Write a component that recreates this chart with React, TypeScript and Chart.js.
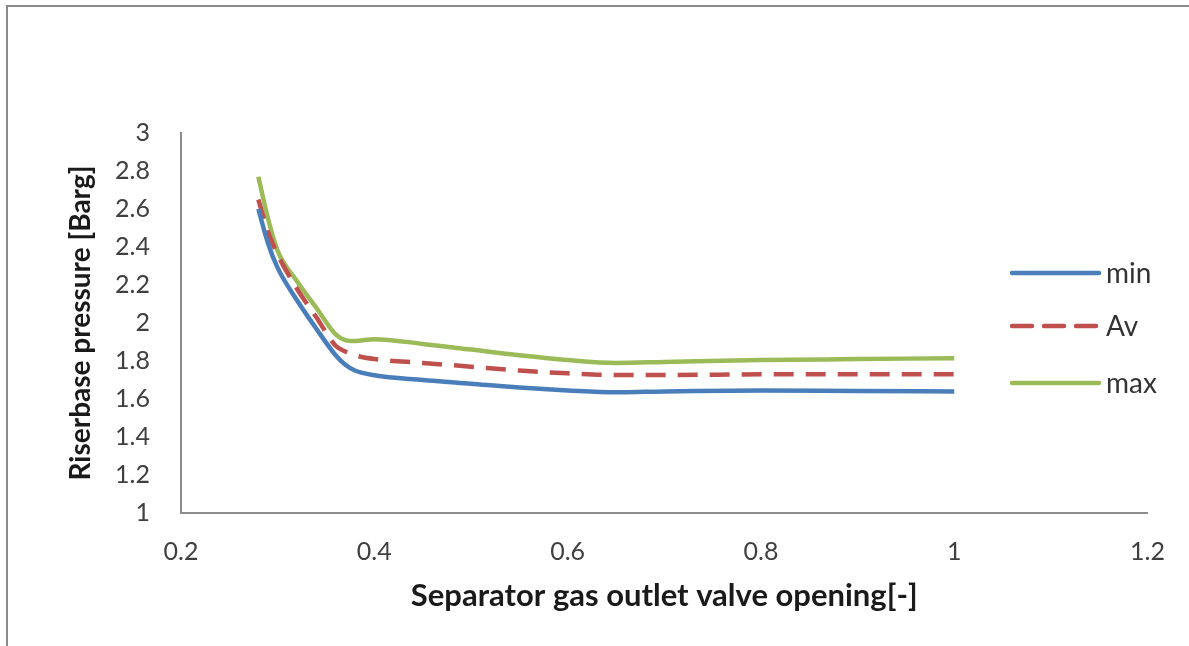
import React, { useEffect, useRef } from "react";
import { Chart, registerables } from "chart.js";

Chart.register(...registerables);

const xValues = [0.28, 0.29, 0.3, 0.32, 0.34, 0.36, 0.37, 0.38, 0.4, 0.45, 0.5, 0.55, 0.6, 0.65, 0.7, 0.8, 0.9, 1.0];
const minValues = [2.6, 2.42, 2.29, 2.12, 1.97, 1.83, 1.78, 1.75, 1.725, 1.7, 1.68, 1.66, 1.645, 1.635, 1.64, 1.645, 1.642, 1.64];
const avValues = [2.65, 2.48, 2.36, 2.18, 2.03, 1.88, 1.85, 1.83, 1.81, 1.79, 1.77, 1.75, 1.735, 1.726, 1.726, 1.73, 1.73, 1.73];
const maxValues = [2.77, 2.55, 2.38, 2.22, 2.08, 1.94, 1.91, 1.905, 1.915, 1.89, 1.86, 1.83, 1.805, 1.79, 1.795, 1.805, 1.81, 1.815];
const seriesLabels = ["min", "Av", "max"];
const xTitle = "Separator gas outlet valve opening[-]";
const yTitle = "Riserbase pressure [Barg]";

const FONT = "Lato, 'Liberation Sans', sans-serif";

const legendPlugin = {
  id: "insideLegend",
  afterDraw(chart: any) {
    const ctx = chart.ctx;
    const rows = [273, 326, 383];
    chart.data.datasets.forEach((ds: any, i: number) => {
      const y = rows[i];
      ctx.save();
      ctx.strokeStyle = ds.borderColor;
      ctx.lineWidth = ds.borderWidth;
      ctx.lineCap = "round";
      ctx.setLineDash(ds.borderDash || []);
      ctx.beginPath();
      ctx.moveTo(1012, y);
      ctx.lineTo(1099, y);
      ctx.stroke();
      ctx.setLineDash([]);
      ctx.fillStyle = "#333";
      ctx.font = `28px ${FONT}`;
      ctx.textBaseline = "middle";
      ctx.textAlign = "left";
      ctx.fillText(ds.label, 1106, y + 1);
      ctx.restore();
    });
  },
};

export default function App() {
  const ref = useRef<HTMLCanvasElement>(null);
  useEffect(() => {
    if (!ref.current) return;
    const mk = (vals: number[]) => xValues.map((x, i) => ({ x, y: vals[i] }));
    const chart = new Chart(ref.current, {
      type: "line",
      data: {
        datasets: [
          { label: seriesLabels[0], data: mk(minValues), borderColor: "#4a7ebb", borderWidth: 4.5, pointRadius: 0, cubicInterpolationMode: "monotone" },
          { label: seriesLabels[1], data: mk(avValues), borderColor: "#c0504d", borderWidth: 4.5, borderDash: [20, 12], pointRadius: 0, cubicInterpolationMode: "monotone" },
          { label: seriesLabels[2], data: mk(maxValues), borderColor: "#9bbb59", borderWidth: 4.5, pointRadius: 0, cubicInterpolationMode: "monotone" },
        ],
      },
      options: {
        animation: false,
        responsive: false,
        devicePixelRatio: 1,
        layout: { padding: { left: 64, right: 39, top: 133, bottom: 31 } },
        plugins: { legend: { display: false }, tooltip: { enabled: false } },
        scales: {
          x: {
            type: "linear",
            min: 0.2,
            max: 1.2,
            grid: { display: false, drawTicks: false },
            border: { display: true, color: "#8c8c8c", width: 2 },
            ticks: {
              stepSize: 0.2,
              padding: 24,
              color: "#404040",
              font: { family: FONT, size: 25 },
              callback: (v: any) => String(Math.round(Number(v) * 10) / 10),
            },
            title: { display: true, text: xTitle, color: "#1a1a1a", font: { family: FONT, size: 31, weight: "bold" }, padding: 0 },
            afterFit: (s: any) => { s.height = 102; },
          },
          y: {
            type: "linear",
            min: 1,
            max: 3,
            grid: { display: false, drawTicks: false },
            border: { display: true, color: "#8c8c8c", width: 2 },
            ticks: {
              stepSize: 0.2,
              padding: 31,
              color: "#404040",
              font: { family: FONT, size: 25 },
              callback: (v: any) => String(Math.round(Number(v) * 10) / 10),
            },
            title: { display: true, text: yTitle, color: "#1a1a1a", font: { family: FONT, size: 28, weight: "bold" }, padding: 0 },
            afterFit: (s: any) => { s.width = 117; },
          },
        },
      },
      plugins: [legendPlugin],
    });
    return () => chart.destroy();
  }, []);
  return (
    <div style={{ position: "fixed", left: 0, top: 0, width: 1189, height: 646, background: "#fff" }}>
      <canvas ref={ref} width={1189} height={646} style={{ display: "block" }} />
      <div style={{ position: "absolute", left: 6, top: 5, width: 1183, height: 641, borderTop: "2px solid #8a8a8a", borderLeft: "2px solid #8a8a8a", pointerEvents: "none" }} />
    </div>
  );
}
